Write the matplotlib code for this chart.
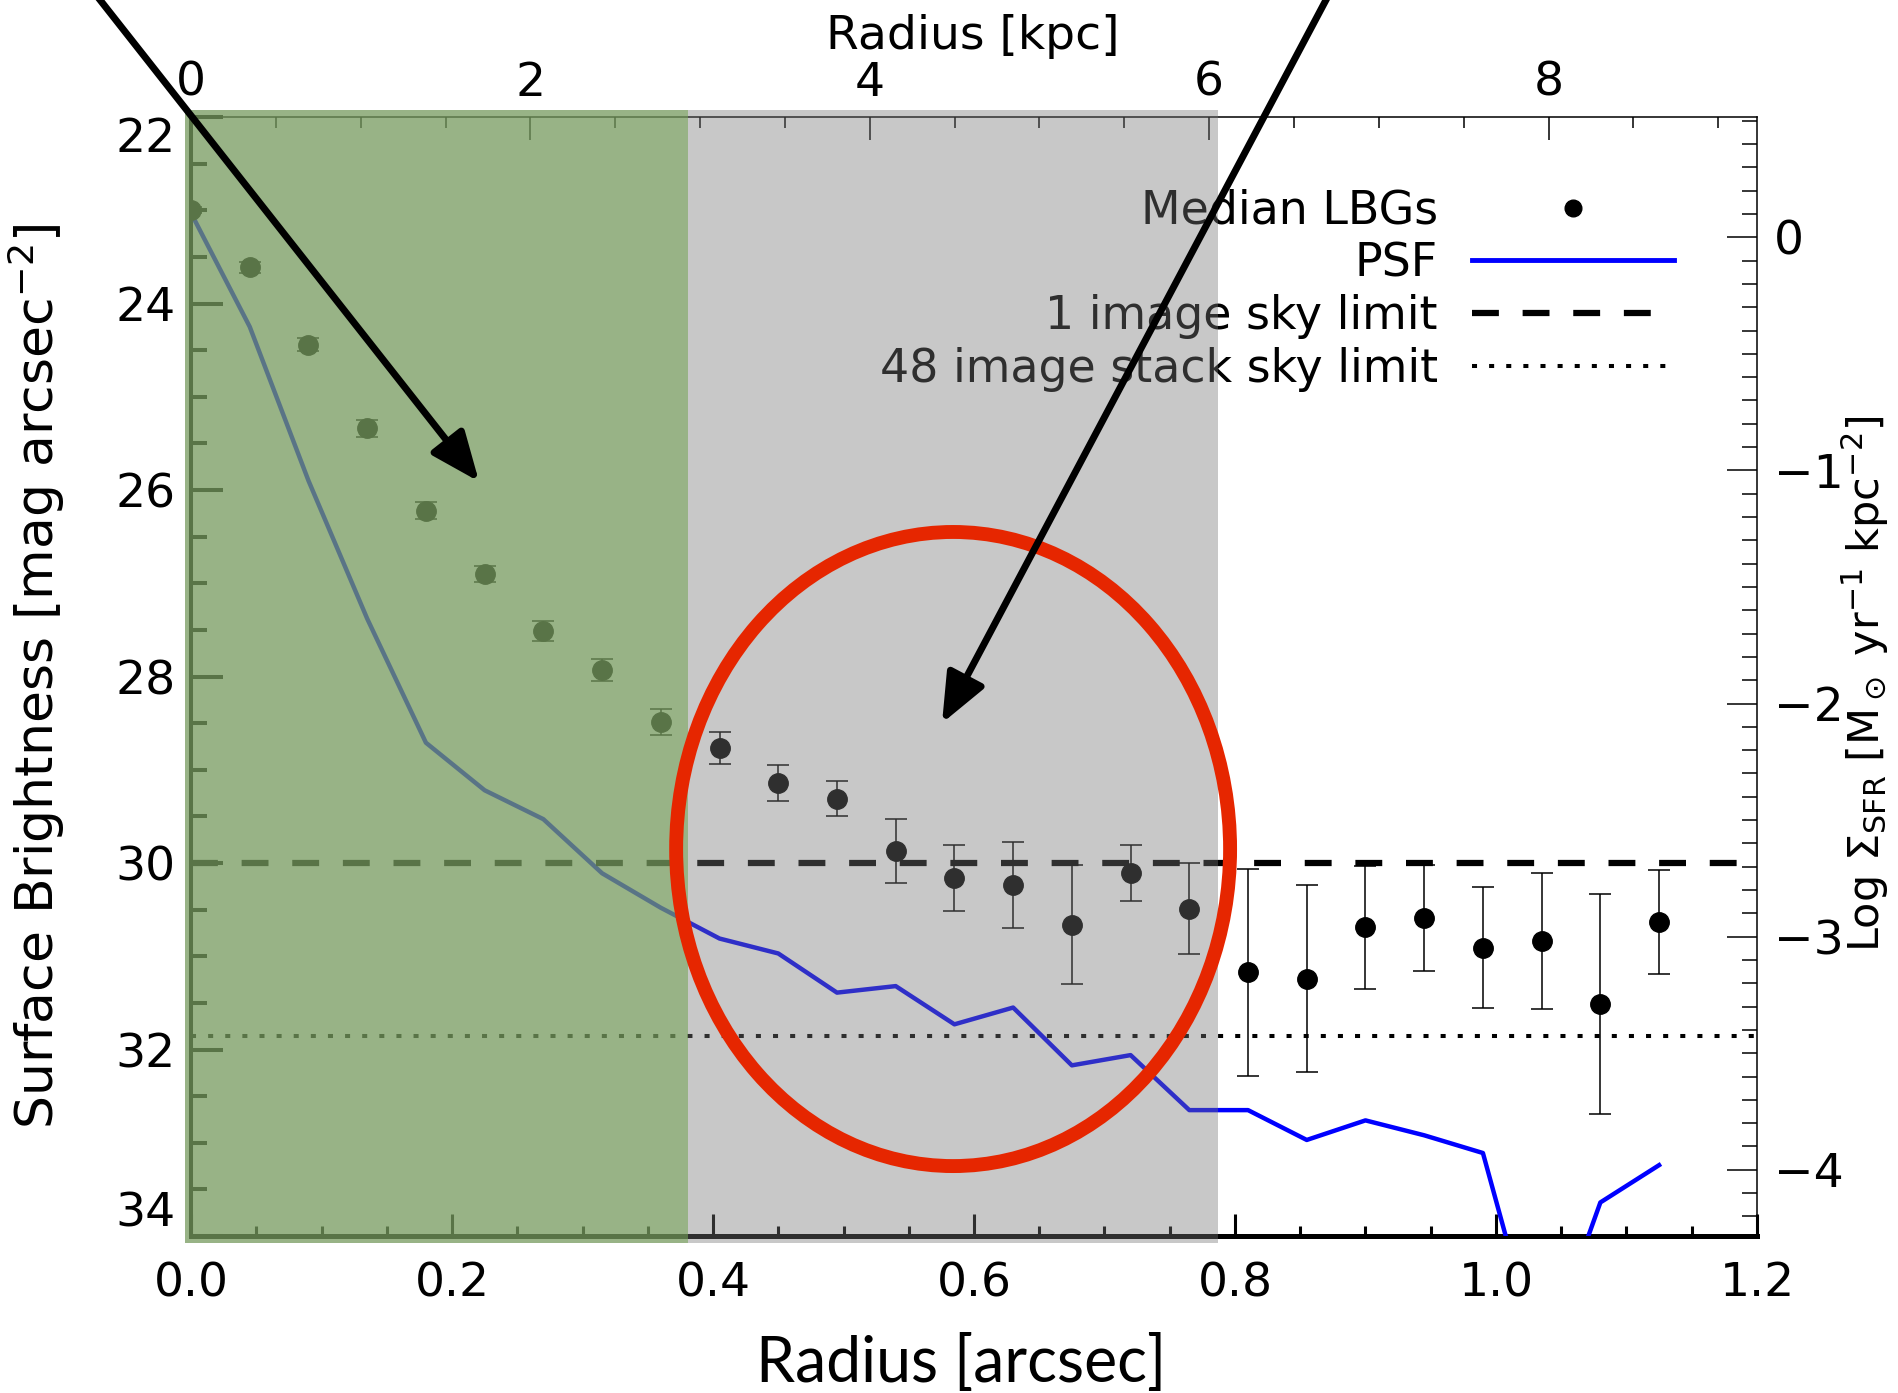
import matplotlib.pyplot as plt
from matplotlib.patches import Rectangle, Ellipse, FancyArrowPatch
from matplotlib.lines import Line2D
from matplotlib.ticker import MultipleLocator, FormatStrFormatter

plt.rcParams['font.family'] = ['DejaVu Sans']
plt.rcParams['mathtext.default'] = 'regular'

# radial bins [arcsec]
radius = [0.000, 0.045, 0.090, 0.135, 0.180, 0.225, 0.270, 0.315, 0.360, 0.405,
          0.450, 0.495, 0.540, 0.585, 0.630, 0.675, 0.720, 0.765, 0.810, 0.855,
          0.900, 0.945, 0.990, 1.035, 1.080, 1.125]
# median LBG surface brightness profile [mag arcsec^-2] and errors
mu_lbg = [23.00, 23.61, 24.44, 25.34, 26.22, 26.90, 27.51, 27.93, 28.49, 28.77,
          29.14, 29.31, 29.87, 30.16, 30.24, 30.66, 30.11, 30.49, 31.17, 31.24,
          30.69, 30.59, 30.91, 30.84, 31.51, 30.63]
mu_err = [0.03, 0.06, 0.07, 0.09, 0.09, 0.09, 0.11, 0.12, 0.14, 0.17,
          0.19, 0.19, 0.34, 0.35, 0.46, 0.64, 0.30, 0.49, 1.11, 1.00,
          0.66, 0.57, 0.65, 0.73, 1.18, 0.56]
# PSF profile
mu_psf = [23.03, 24.25, 25.90, 27.38, 28.71, 29.22, 29.53, 30.11, 30.48, 30.81,
          30.97, 31.39, 31.32, 31.73, 31.55, 32.17, 32.06, 32.65, 32.65, 32.97,
          32.76, 32.92, 33.11, 35.40, 33.64, 33.24]

sky_1img = 30.0
sky_48img = 31.86
kpc_per_arcsec = 7.69
mu_zero = 23.29   # mag where log SFR density = 0

# tick values
arcsec_ticks = [0.0, 0.2, 0.4, 0.6, 0.8, 1.0, 1.2]
mag_ticks = [22, 24, 26, 28, 30, 32, 34]
kpc_ticks = [0, 2, 4, 6, 8]
sfr_ticks = [0, -1, -2, -3, -4]

legend_labels = ['Median LBGs', 'PSF', '1 image sky limit', '48 image stack sky limit']

# highlighted zones [arcsec]
green_zone = (0.0, 0.381)
grey_zone = (0.381, 0.787)

# hand drawn annotations (data units)
circle_xy = (0.584, 29.85)
circle_w, circle_h = 0.4245, 6.80
arrow1 = ((-0.0818, 20.53), (0.2207, 25.91))
arrow2 = ((0.8779, 20.53), (0.5755, 28.50))

dash_style = (0, (4.3, 3.8))
dot_style = (0, (1.25, 3.0))

fig = plt.figure(figsize=(18.99, 13.93), dpi=100)
ax = fig.add_axes([0.1006, 0.1127, 0.8246, 0.8033])

ax.errorbar(radius, mu_lbg, yerr=mu_err, fmt='o', color='k', ms=14,
            elinewidth=1.1, capsize=8, capthick=1.1, zorder=4)
ax.plot(radius, mu_psf, color='#0000ff', lw=3.2, zorder=3)
ax.axhline(sky_1img, color='k', lw=4.5, ls=dash_style, zorder=3)
ax.axhline(sky_48img, color='k', lw=2.9, ls=dot_style, zorder=3)

ax.set_xlim(0, 1.2)
ax.set_ylim(34, 22)

ax.set_xticks(arcsec_ticks)
ax.xaxis.set_minor_locator(MultipleLocator(0.05))
ax.xaxis.set_major_formatter(FormatStrFormatter('%.1f'))
ax.set_yticks(mag_ticks)
ax.yaxis.set_minor_locator(MultipleLocator(0.5))
ax.tick_params(axis='x', which='major', direction='in', length=16, width=2.2,
               labelsize=34, pad=18, top=False)
ax.tick_params(axis='x', which='minor', direction='in', length=7, width=2.2, top=False)
ax.tick_params(axis='y', which='major', direction='in', length=23, width=2.9,
               labelsize=34, pad=11, right=False)
ax.tick_params(axis='y', which='minor', direction='in', length=11.5, width=2.9, right=False)
ax.spines['top'].set_visible(False)
ax.spines['right'].set_visible(False)
ax.spines['left'].set_linewidth(2.9)
ax.spines['bottom'].set_linewidth(3.6)

ylabs = ax.get_yticklabels()
ylabs[0].set_va('top')
ylabs[-1].set_va('bottom')

# top axis in kpc
top = ax.secondary_xaxis('top', functions=(lambda r: r * kpc_per_arcsec,
                                           lambda k: k / kpc_per_arcsec))
top.set_xticks(kpc_ticks)
top.xaxis.set_minor_locator(MultipleLocator(0.5))
top.tick_params(which='major', direction='in', length=16.5, width=1.1, labelsize=34, pad=8)
top.tick_params(which='minor', direction='in', length=8, width=1.1)
top.spines['top'].set_linewidth(1.1)

# right axis in log SFR surface density
rgt = ax.secondary_yaxis('right', functions=(lambda m: -0.4 * (m - mu_zero),
                                             lambda s: mu_zero - 2.5 * s))
rgt.set_yticks(sfr_ticks)
rgt.yaxis.set_minor_locator(MultipleLocator(0.1))
rgt.tick_params(which='major', direction='in', length=21.5, width=1.1, labelsize=34, pad=12)
rgt.tick_params(which='minor', direction='in', length=10.8, width=1.1)
rgt.spines['right'].set_linewidth(1.1)

ax.set_ylabel('Surface Brightness [mag arcsec$^{-2}$]', fontsize=37.5)
ax.yaxis.set_label_coords(-0.079, 0.5)
ax.set_xlabel('Radius [arcsec]', fontsize=45, family=['Lato', 'DejaVu Sans'], va='center')
ax.xaxis.set_label_coords(0.4917, -0.114)
fig.text(0.5124, 0.974, 'Radius [kpc]', fontsize=34, ha='center', va='center')
fig.text(0.982, 0.509, r'Log $\Sigma_{\rm SFR}$ [M$_\odot$ yr$^{-1}$ kpc$^{-2}$]',
         rotation=90, fontsize=31, ha='center', va='center')

handles = [Line2D([], [], ls='none', marker='o', color='k', ms=12),
           Line2D([], [], color='#0000ff', lw=3.5),
           Line2D([], [], color='k', lw=4.5, ls=dash_style),
           Line2D([], [], color='k', lw=2.9, ls=dot_style)]
ax.legend(handles, legend_labels, loc='upper right', bbox_to_anchor=(0.947, 0.936),
          frameon=False, markerfirst=False, fontsize=33, handlelength=4.4,
          handletextpad=0.75, labelspacing=0.17, borderpad=0, borderaxespad=0)

# translucent zone overlays
ax.add_patch(Rectangle((green_zone[0] - 0.0046, 21.925), green_zone[1] - green_zone[0] + 0.0046,
                       12.15, facecolor=(119/255, 155/255, 95/255), alpha=0.757,
                       lw=0, clip_on=False, zorder=10))
ax.add_patch(Rectangle((grey_zone[0], 21.925), grey_zone[1] - grey_zone[0], 12.15,
                       facecolor=(119/255, 119/255, 119/255), alpha=0.404,
                       lw=0, clip_on=False, zorder=10))

# annotations
ax.add_patch(Ellipse(circle_xy, circle_w, circle_h, fill=False, ec='#e62600', lw=10,
                     clip_on=False, zorder=20))
for start, end in [arrow1, arrow2]:
    ax.add_patch(FancyArrowPatch(start, end, arrowstyle='-|>,head_length=0.6,head_width=0.25',
                                 color='k', lw=5, mutation_scale=50, shrinkA=0, shrinkB=0,
                                 clip_on=False, zorder=21))

fig.savefig('out.png', dpi=100)
